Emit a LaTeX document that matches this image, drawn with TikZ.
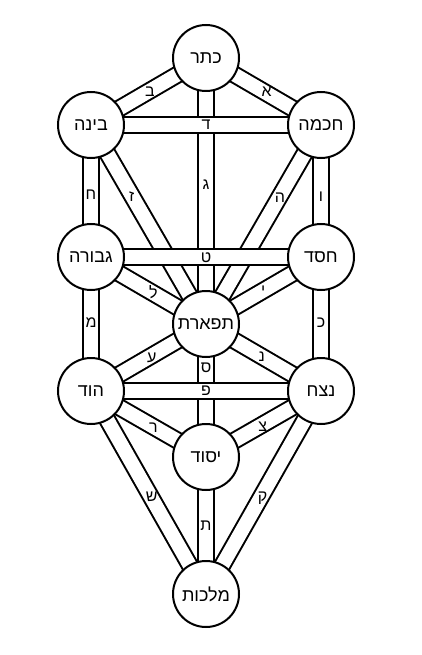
\documentclass[tikz,border=0pt]{standalone}
\usepackage{fontspec}
\newfontfamily\heb[Script=Hebrew]{Liberation Sans}
\TeXXeTstate=1
\begin{document}
\begin{tikzpicture}[x=1pt,y=-1pt,
  sephira/.style={circle, draw=black, line width=2pt, fill=white, minimum size=66pt, inner sep=0pt,
    font=\heb\fontsize{18}{18}\selectfont},
  chan/.style={draw=black, line width=2pt, double=white, double distance=14pt},
  lbl/.style={inner sep=0pt, font=\heb\fontsize{16}{16}\selectfont}]
\useasboundingbox[fill=white] (0,0) rectangle (422,655);
% centres
\coordinate (k)  at (206,58);
\coordinate (ch) at (321,125);
\coordinate (bi) at (91,125);
\coordinate (he) at (321,257);
\coordinate (ge) at (91,257);
\coordinate (ti) at (206,324);
\coordinate (ne) at (321,391);
\coordinate (ho) at (91,391);
\coordinate (ye) at (206,457);
\coordinate (ma) at (206,594);
% diagonal and vertical channels
\draw[chan] (k) -- (ch);
\draw[chan] (k) -- (bi);
\draw[chan] (k) -- (ti);
\draw[chan] (ch) -- (ti);
\draw[chan] (ch) -- (he);
\draw[chan] (bi) -- (ti);
\draw[chan] (bi) -- (ge);
\draw[chan] (he) -- (ti);
\draw[chan] (he) -- (ne);
\draw[chan] (ge) -- (ti);
\draw[chan] (ge) -- (ho);
\draw[chan] (ti) -- (ne);
\draw[chan] (ti) -- (ye);
\draw[chan] (ti) -- (ho);
\draw[chan] (ne) -- (ye);
\draw[chan] (ne) -- (ma);
\draw[chan] (ho) -- (ye);
\draw[chan] (ho) -- (ma);
\draw[chan] (ye) -- (ma);
% horizontal channels on top
\draw[chan] (ch) -- (bi);
\draw[chan] (he) -- (ge);
\draw[chan] (ne) -- (ho);
% sephirot
\node[sephira] (K)  at (k)  {\beginR כתר\endR};
\node[sephira] (CH) at (ch) {\beginR חכמה\endR};
\node[sephira] (BI) at (bi) {\beginR בינה\endR};
\node[sephira] (HE) at (he) {\beginR חסד\endR};
\node[sephira] (GE) at (ge) {\beginR גבורה\endR};
\node[sephira] (TI) at (ti) {\beginR תפארת\endR};
\node[sephira] (NE) at (ne) {\beginR נצח\endR};
\node[sephira] (HO) at (ho) {\beginR הוד\endR};
\node[sephira] (YE) at (ye) {\beginR יסוד\endR};
\node[sephira] (MA) at (ma) {\beginR מלכות\endR};
% path letters
\node[lbl] (l1)  at (266.7,91.7) {א};
\node[lbl] (l2)  at (150,91.7) {ב};
\node[lbl] (l3)  at (206,185) {ג};
\node[lbl] (l4)  at (206,125) {ד};
\node[lbl] (l5)  at (280,198) {ה};
\node[lbl] (l6)  at (321,197) {ו};
\node[lbl] (l7)  at (131.7,196.7) {ז};
\node[lbl] (l8)  at (91,195) {ח};
\node[lbl] (l9)  at (206,257.7) {ט};
\node[lbl] (l10) at (263.3,290.7) {י};
\node[lbl] (l11) at (321,323) {כ};
\node[lbl] (l12) at (153.3,291.7) {ל};
\node[lbl] (l13) at (91,323) {מ};
\node[lbl] (l14) at (261.7,357) {נ};
\node[lbl] (l15) at (206,368) {ס};
\node[lbl] (l16) at (151.7,358) {ע};
\node[lbl] (l17) at (206,391) {פ};
\node[lbl] (l18) at (262.7,426.7) {צ};
\node[lbl] (l19) at (262.7,498) {ק};
\node[lbl] (l20) at (153.3,428) {ר};
\node[lbl] (l21) at (151.7,497) {ש};
\node[lbl] (l22) at (206,526) {ת};
\end{tikzpicture}
\end{document}
